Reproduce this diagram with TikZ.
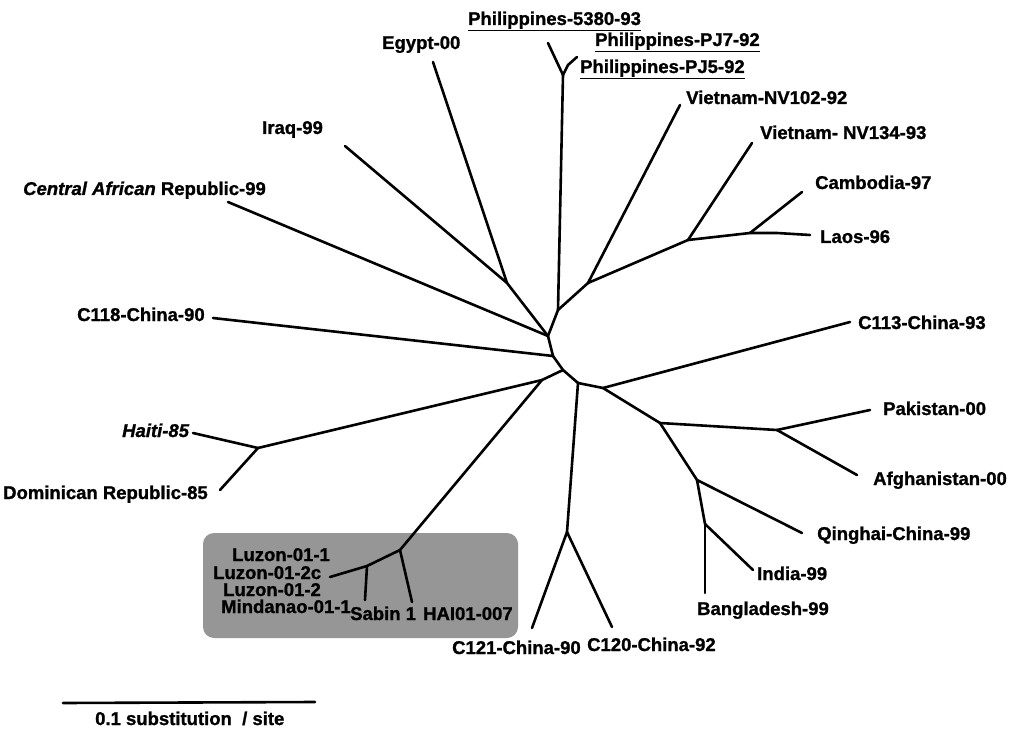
\documentclass[tikz,border=0pt]{standalone}
\usepackage{fontspec}
\setmainfont{Liberation Sans}
\newfontfamily\labfont[FakeBold=1.2,ItalicFont={Liberation Sans Bold Italic},ItalicFeatures={FakeBold=1.2}]{Liberation Sans Bold}
\definecolor{boxgrey}{RGB}{150,150,150}
\begin{document}
\begin{tikzpicture}[x=1pt,y=-1pt,
  br/.style={line width=2.6pt,line cap=round,line join=round},
  lab/.style={font=\fontsize{18.5}{20}\labfont,inner sep=0pt,anchor=base west},
  grey area/.style={fill=boxgrey,rounded corners=11pt,draw=none,inner sep=0pt}]
\useasboundingbox (0,0) rectangle (1012,730);
\fill[white] (0,0) rectangle (1012,730);
% grey background box
\node[grey area,minimum width=315pt,minimum height=105pt] (greybox) at (360.5,585.5) {};
% internal nodes
\coordinate (T) at (563,75);
\coordinate (N1) at (558,310);
\coordinate (N2) at (548,336);
\coordinate (E) at (507,283);
\coordinate (N3) at (553,356);
\coordinate (N3b) at (563,370);
\coordinate (J) at (542,380);
\coordinate (H) at (258,448);
\coordinate (L1) at (400,550);
\coordinate (L2) at (367,566);
\coordinate (LZ) at (330,577);
\coordinate (N4) at (578,383);
\coordinate (N5) at (603,388);
\coordinate (N6) at (660,423);
\coordinate (N7) at (777,430);
\coordinate (N8) at (697,480);
\coordinate (N9) at (705,524);
\coordinate (N10) at (567,532);
\coordinate (V1) at (588,283);
\coordinate (V2) at (688,240);
\coordinate (V3) at (750,233);
\coordinate (V4) at (777,233);
% leaf tips
\coordinate (tP1) at (548,43);
\coordinate (tP2a) at (568,65);
\coordinate (tP2) at (577,57);
\coordinate (tNVa) at (680,105);
\coordinate (tNVb) at (752,143);
\coordinate (tCam) at (802,192);
\coordinate (tLaos) at (810,235);
\coordinate (tEg) at (433,62);
\coordinate (tIq) at (345,146);
\coordinate (tCAR) at (228,202);
\coordinate (tCa) at (213,318);
\coordinate (tHaiti) at (193,433);
\coordinate (tDom) at (220,490);
\coordinate (tHAI) at (412,602);
\coordinate (tSab) at (365,600);
\coordinate (tCb) at (850,322);
\coordinate (tPak) at (870,410);
\coordinate (tAfg) at (857,475);
\coordinate (tQing) at (802,533);
\coordinate (tInd) at (753,570);
\coordinate (tBan) at (705,593);
\coordinate (tCc) at (532,628);
\coordinate (tCd) at (612,627);
\coordinate (sb1) at (63,703);
\coordinate (sb2) at (315,702);
% branches
\draw[br] (T) -- (N1);
\draw[br] (T) -- (tP1);
\draw[br] (T) -- (tP2a) -- (tP2);
\draw[br] (N1) -- (V1);
\draw[br] (V1) -- (tNVa);
\draw[br] (V1) -- (V2);
\draw[br] (V2) -- (tNVb);
\draw[br] (V2) -- (V3);
\draw[br] (V3) -- (tCam);
\draw[br] (V3) -- (V4) -- (tLaos);
\draw[br] (N1) -- (N2);
\draw[br] (N2) -- (E);
\draw[br] (E) -- (tEg);
\draw[br] (E) -- (tIq);
\draw[br] (N2) -- (tCAR);
\draw[br] (N2) -- (N3);
\draw[br] (N3) -- (tCa);
\draw[br] (N3) -- (N3b);
\draw[br] (N3b) -- (J);
\draw[br] (J) -- (H);
\draw[br] (H) -- (tHaiti);
\draw[br] (H) -- (tDom);
\draw[br] (J) -- (L1);
\draw[br] (L1) -- (tHAI);
\draw[br] (L1) -- (L2);
\draw[br] (L2) -- (tSab);
\draw[br] (L2) -- (LZ);
\draw[br] (N3b) -- (N4);
\draw[br] (N4) -- (N5);
\draw[br] (N5) -- (tCb);
\draw[br] (N5) -- (N6);
\draw[br] (N6) -- (N7);
\draw[br] (N7) -- (tPak);
\draw[br] (N7) -- (tAfg);
\draw[br] (N6) -- (N8);
\draw[br] (N8) -- (tQing);
\draw[br] (N8) -- (N9);
\draw[br] (N9) -- (tInd);
\draw[br] (N9) -- (tBan);
\draw[br] (N4) -- (N10);
\draw[br] (N10) -- (tCc);
\draw[br] (N10) -- (tCd);
\draw[br] (sb1) -- (sb2);
% labels
\node[lab] (lPa) at (468,25) {\underline{Philippines-5380-93}};
\node[lab] (lPb) at (595,46) {\underline{Philippines-PJ7-92}};
\node[lab] (lPc) at (580,73) {\underline{Philippines-PJ5-92}};
\node[lab] (lEg) at (382,49) {Egypt-00};
\node[lab] (lIq) at (262,134) {Iraq-99};
\node[lab] (lNVa) at (686,104) {Vietnam-NV102-92};
\node[lab] (lNVb) at (760,139) {Vietnam- NV134-93};
\node[lab] (lCam) at (815,189) {Cambodia-97};
\node[lab] (lLaos) at (820,243) {Laos-96};
\node[lab] (lCAR) at (23,195) {\itshape Central African\/ \upshape Republic-99};
\node[lab] (lCa) at (77,321) {C118-China-90};
\node[lab] (lCb) at (858,329) {C113-China-93};
\node[lab] (lHaiti) at (122,437) {\itshape Haiti-85};
\node[lab] (lDom) at (3,499) {Dominican Republic-85};
\node[lab] (lPak) at (883,415) {Pakistan-00};
\node[lab] (lAfg) at (873,485) {Afghanistan-00};
\node[lab] (lQing) at (817,540) {Qinghai-China-99};
\node[lab] (lInd) at (757,580) {India-99};
\node[lab] (lBan) at (697,615) {Bangladesh-99};
\node[lab] (lCc) at (452,654) {C121-China-90};
\node[lab] (lCd) at (587,651) {C120-China-92};
\node[lab] (lLa) at (232,561) {Luzon-01-1};
\node[lab] (lLb) at (213,579) {Luzon-01-2c};
\node[lab] (lLc) at (223,596) {Luzon-01-2};
\node[lab] (lMin) at (221,613) {Mindanao-01-1};
\node[lab] (lSab) at (350,620) {Sabin 1};
\node[lab] (lHAI) at (423,620) {HAI01-007};
\node[lab] (lScale) at (95,725) {0.1 substitution\ \ / site};
\end{tikzpicture}
\end{document}
